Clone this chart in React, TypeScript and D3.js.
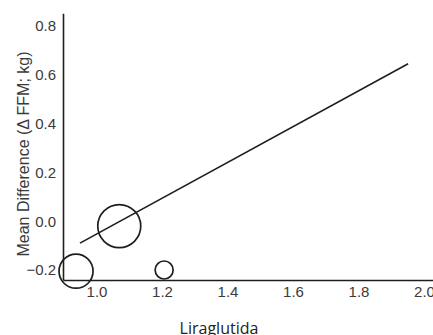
import React from 'react';
import * as d3 from 'd3';

// bubble data: dose (x), mean difference (y), relative weight (r)
const doses = [0.936, 1.068, 1.205];
const meanDiffs = [-0.205, -0.02, -0.2];
const weights = [17, 21.5, 9];

// regression line endpoints
const lineX = [0.948, 1.95];
const lineY = [-0.09, 0.645];

const xTicks = [1.0, 1.2, 1.4, 1.6, 1.8, 2.0];
const yTicks = [-0.2, 0.0, 0.2, 0.4, 0.6, 0.8];

const W = 433;
const H = 335;
const ink = '#1e1e1e';
const txt = '#3a3a3a';

const App: React.FC = () => {
  const left = 63.5;
  const bottom = 280.5;

  const x = d3.scaleLinear().domain([0.9, 2.0]).range([64.25, 424.5]);
  const y = d3.scaleLinear().domain([-0.2, 0.8]).range([270, 26]);

  const line = d3.line<[number, number]>()
    .x(d => x(d[0]))
    .y(d => y(d[1]));
  const linePts: [number, number][] = lineX.map((v, i) => [v, lineY[i]]);

  return (
    <svg width={W} height={H} style={{ position: 'absolute', left: 0, top: 0, background: '#fff' }}>
      {/* axes */}
      <line x1={left} x2={left} y1={y(0.85)} y2={bottom} stroke={ink} strokeWidth={1.6} />
      <line x1={left} x2={W} y1={bottom} y2={bottom} stroke={ink} strokeWidth={1.6} />

      {yTicks.map(t => (
        <text key={t} x={56} y={y(t)} dy="0.36em" textAnchor="end"
          fontFamily="'Liberation Sans', Arial, sans-serif" fontSize={15} fill={txt}>
          {d3.format('.1f')(t)}
        </text>
      ))}
      {xTicks.map(t => (
        <text key={t} x={x(t)} y={296.5} textAnchor="middle"
          fontFamily="'Liberation Sans', Arial, sans-serif" fontSize={15} fill={txt}>
          {d3.format('.1f')(t)}
        </text>
      ))}

      {/* fitted line */}
      <path d={line(linePts) ?? ''} fill="none" stroke={ink} strokeWidth={1.6} />

      {/* study bubbles */}
      {doses.map((d, i) => (
        <circle key={i} cx={x(d)} cy={y(meanDiffs[i])} r={weights[i]}
          fill="none" stroke={ink} strokeWidth={1.7} />
      ))}

      <text transform={`translate(28.5,154) rotate(-90)`} textAnchor="middle"
        fontFamily="'Liberation Sans', Arial, sans-serif" fontSize={16} fill={txt}>
        Mean Difference (Δ FFM; kg)
      </text>
      <text x={219} y={334} textAnchor="middle"
        fontFamily="'Open Sans', sans-serif" fontSize={16} fill="#222">
        Liraglutida
      </text>
    </svg>
  );
};

export default App;
